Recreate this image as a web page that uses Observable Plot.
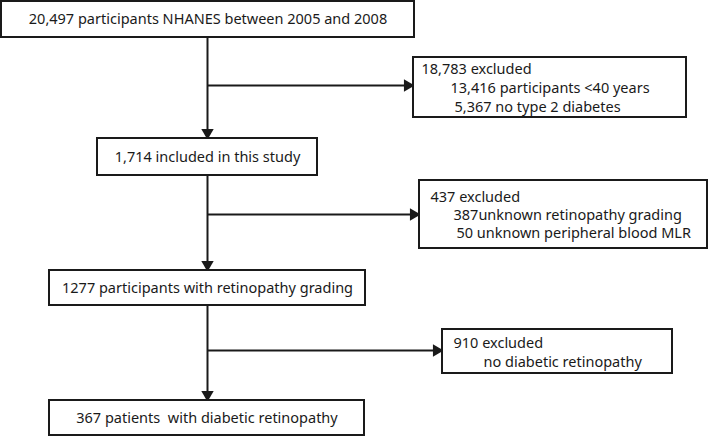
<!DOCTYPE html>
<html>
<head>
<meta charset="utf-8">
<script src="https://cdn.jsdelivr.net/npm/d3@7"></script>
<script src="https://cdn.jsdelivr.net/npm/@observablehq/plot@0.6"></script>
<style>
  html, body { margin: 0; padding: 0; background: #fff; }
  svg text { white-space: pre; }
</style>
</head>
<body>
<div id="chart"></div>
<script>
// ---- content ----
const mainLabels = [
  "20,497 participants NHANES between 2005 and 2008",
  "1,714 included in this study",
  "1277 participants with retinopathy grading",
  "367 patients  with diabetic retinopathy"
];
const exclusionTitles = ["18,783 excluded", "437 excluded", "910 excluded"];
const exclusionDetails = [
  ["13,416 participants <40 years", "5,367 no type 2 diabetes"],
  ["387unknown retinopathy grading", "50 unknown peripheral blood MLR"],
  ["no diabetic retinopathy"]
];

// ---- layout (diagram units = pixels of the 708x437 frame) ----
const mainBoxes = [
  {x1: 1, x2: 414, y1: 1, y2: 37},
  {x1: 97, x2: 317, y1: 138, y2: 175},
  {x1: 49, x2: 365, y1: 270, y2: 305},
  {x1: 49, x2: 364, y1: 400, y2: 435}
];
const sideBoxes = [
  {x1: 413, x2: 686, y1: 57, y2: 117},
  {x1: 419, x2: 707, y1: 180, y2: 248},
  {x1: 442, x2: 672, y1: 329, y2: 373}
];
const branchY = [85, 214, 350];
const spineX = 207;
const titleX = [421, 430, 453];
const detailX = [[450, 454], [453, 456], [483]];
const lineY = [[69, 88, 107], [197, 215, 233], [343, 362]];

// ---- derived tables ----
const boxes = [...mainBoxes, ...sideBoxes];
const mainText = mainLabels.map((t, i) => ({
  text: t, x: (mainBoxes[i].x1 + mainBoxes[i].x2) / 2, y: (mainBoxes[i].y1 + mainBoxes[i].y2) / 2
}));
const sideText = [];
exclusionTitles.forEach((t, i) => {
  sideText.push({text: t, x: titleX[i], y: lineY[i][0]});
  exclusionDetails[i].forEach((d, j) => sideText.push({text: d, x: detailX[i][j], y: lineY[i][j + 1]}));
});
const tip = 6;
const vLinks = [];
const vHeads = [];
for (let i = 0; i < mainBoxes.length - 1; i++) {
  vLinks.push({x1: spineX, x2: spineX, y1: mainBoxes[i].y2, y2: mainBoxes[i + 1].y1 - 4});
  vHeads.push({x: spineX, y: mainBoxes[i + 1].y1 - tip});
}
const hLinks = branchY.map((y, i) => ({x1: spineX, x2: sideBoxes[i].x1 - 4, y1: y, y2: y}));
const hHeads = branchY.map((y, i) => ({x: sideBoxes[i].x1 - tip, y}));

const ink = "#1a1a1a";
const chart = Plot.plot({
  width: 708,
  height: 437,
  margin: 0,
  x: {domain: [0, 708], range: [0, 708], axis: null},
  y: {domain: [0, 437], range: [0, 437], axis: null},
  style: {fontFamily: "'Noto Sans', 'Open Sans', sans-serif", background: "#fff"},
  marks: [
    Plot.link(vLinks, {x1: "x1", x2: "x2", y1: "y1", y2: "y2", stroke: ink, strokeWidth: 2}),
    Plot.link(hLinks, {x1: "x1", x2: "x2", y1: "y1", y2: "y2", stroke: ink, strokeWidth: 2}),
    Plot.dot(vHeads, {x: "x", y: "y", symbol: "triangle", r: 4.6, fill: ink, stroke: "none", rotate: 180}),
    Plot.dot(hHeads, {x: "x", y: "y", symbol: "triangle", r: 4.6, fill: ink, stroke: "none", rotate: 90}),
    Plot.rect(boxes, {x1: "x1", x2: "x2", y1: "y1", y2: "y2", fill: "white", stroke: ink, strokeWidth: 2}),
    Plot.text(mainText, {x: "x", y: "y", text: "text", fontSize: 14.5, fill: ink}),
    Plot.text(sideText, {x: "x", y: "y", text: "text", fontSize: 14.5, fill: ink, textAnchor: "start"})
  ]
});
document.getElementById("chart").appendChild(chart);
</script>
</body>
</html>
